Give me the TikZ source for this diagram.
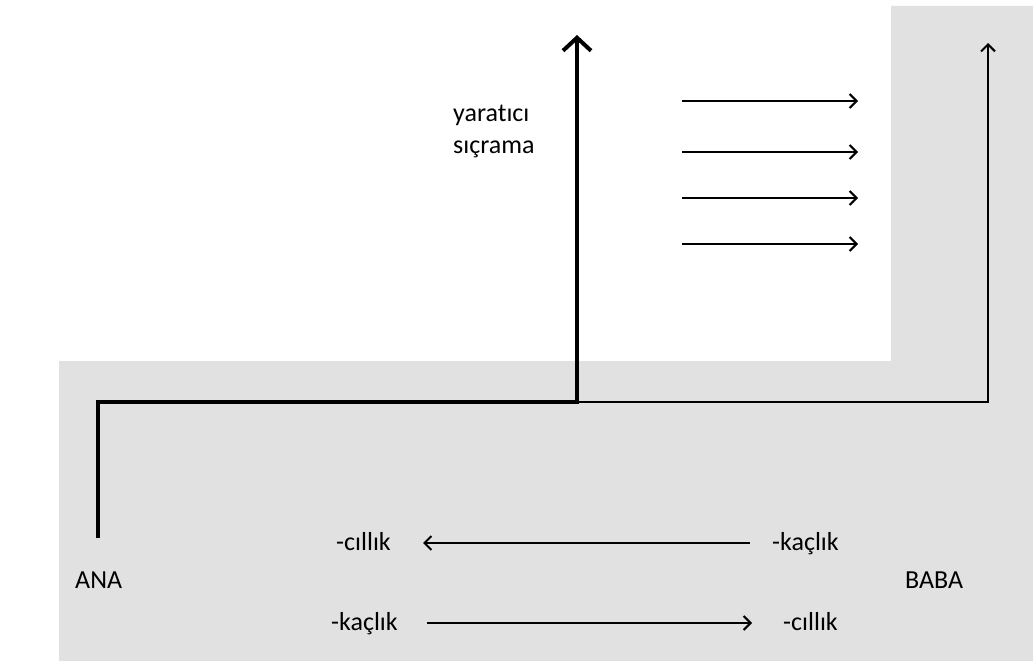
\documentclass[tikz,border=0pt]{standalone}
\usepackage{fontspec}
\setmainfont{Carlito}[Ligatures=NoCommon]
\usepackage{xcolor}
\usetikzlibrary{arrows.meta,positioning}
\definecolor{bggray}{RGB}{225,225,225}

\begin{document}
\begin{tikzpicture}[x=1pt,y=-1pt,
   thickpath/.style={line width=4.5pt,miter limit=10},
   thinpath/.style={line width=2pt},
   bigtip/.style={-{Straight Barb[length=13pt,width=28pt,line width=4pt]}},
   smalltip/.style={-{Straight Barb[length=7pt,width=14pt,line width=2pt]}},
   txt/.style={inner sep=0pt,font=\fontsize{26}{32}\selectfont},
   lbl/.style={txt,text height=14pt,text depth=0pt}]
   \useasboundingbox (0,0) rectangle (1033,661);
   \fill[bggray] (59,361) -- (891,361) -- (891,6) -- (1033,6) -- (1033,661) -- (59,661) -- cycle;
   % main path
   \coordinate (anaend) at (98,538);
   \coordinate (corner) at (98,402);
   \coordinate (jump) at (577,402);
   \coordinate (jumptop) at (577,35);
   \coordinate (babacorner) at (988,402);
   \coordinate (babatop) at (988,43);
   \draw[thickpath,bigtip] (anaend) -- (corner) -- (jump) -- (jumptop);
   \draw[thinpath,smalltip] (jump) -- (babacorner) -- (babatop);
   % labels
   \node[lbl,anchor=base west] (ana) at (75,588) {ANA};
   \node[lbl,anchor=base west] (baba) at (905,588) {BABA};
   \node[txt,anchor=south west,align=left] (leap) at (453,158) {yaratıcı\\sıçrama};
   % parallel arrows
   \coordinate (s1) at (682,101); \coordinate (t1) at (858,101);
   \coordinate (s2) at (682,152); \coordinate (t2) at (858,152);
   \coordinate (s3) at (682,198); \coordinate (t3) at (858,198);
   \coordinate (s4) at (682,244); \coordinate (t4) at (858,244);
   \draw[thinpath,smalltip] (s1) -- (t1);
   \draw[thinpath,smalltip] (s2) -- (t2);
   \draw[thinpath,smalltip] (s3) -- (t3);
   \draw[thinpath,smalltip] (s4) -- (t4);
   % suffixes
   \node[lbl,anchor=base west] (cil1) at (336,550) {-cıllık};
   \node[lbl,anchor=base west] (kac1) at (772,550) {-kaçlık};
   \node[lbl,anchor=base west] (kac2) at (331,630) {-kaçlık};
   \node[lbl,anchor=base west] (cil2) at (783,630) {-cıllık};
   \draw[thinpath,smalltip,shorten <=22pt,shorten >=32pt] (kac1.west) -- (cil1.east);
   \draw[thinpath,smalltip,shorten <=29pt,shorten >=31pt] (kac2.east) -- (cil2.west);
\end{tikzpicture}
\end{document}
